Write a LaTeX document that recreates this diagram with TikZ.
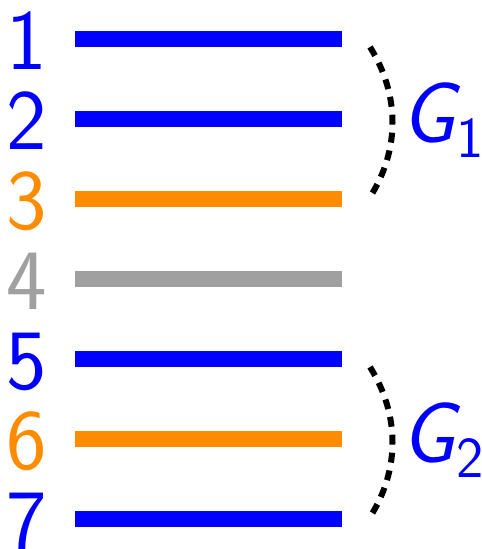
\documentclass[tikz,border=0pt]{standalone}
\definecolor{myblue}{RGB}{0,0,255}
\definecolor{myorange}{RGB}{255,140,0}
\definecolor{mygray}{RGB}{160,160,160}
\begin{document}
\begin{tikzpicture}[x=1pt,y=-1pt,
  bar/.style={line width=16pt},
  num/.style={anchor=base,inner sep=0pt,font=\fontsize{86}{86}\selectfont\sffamily},
  grp/.style={line width=6pt,dash pattern=on 10pt off 8pt,black},
  glab/.style={anchor=base west,inner sep=0pt,text=myblue,font=\fontsize{86}{86}\selectfont\sffamily\itshape}]
\useasboundingbox (0,0) rectangle (482,549);
\foreach \i/\c in {1/myblue,2/myblue,3/myorange,4/mygray,5/myblue,6/myorange,7/myblue}{
  \pgfmathsetmacro{\yy}{38.5+80*(\i-1)}
  \coordinate (l\i) at (75,\yy);
  \coordinate (r\i) at (342,\yy);
  \draw[bar,\c] (l\i) -- (r\i);
  \node[num,text=\c] (n\i) at (27,\yy+30.5) {\i};
}
\coordinate (a1) at (370,47);
\coordinate (b1) at (370,197);
\draw[grp] (a1) .. controls (400,95) and (400,150) .. (b1);
\coordinate (a2) at (370,367);
\coordinate (b2) at (370,517);
\draw[grp] (a2) .. controls (400,415) and (400,470) .. (b2);
\node[glab] (g1) at (401,142) {G\kern1pt\raisebox{-15pt}{\upshape\fontsize{58}{58}\selectfont 1}};
\node[glab] (g2) at (401,462) {G\kern1pt\raisebox{-15pt}{\upshape\fontsize{58}{58}\selectfont 2}};
\end{tikzpicture}
\end{document}
